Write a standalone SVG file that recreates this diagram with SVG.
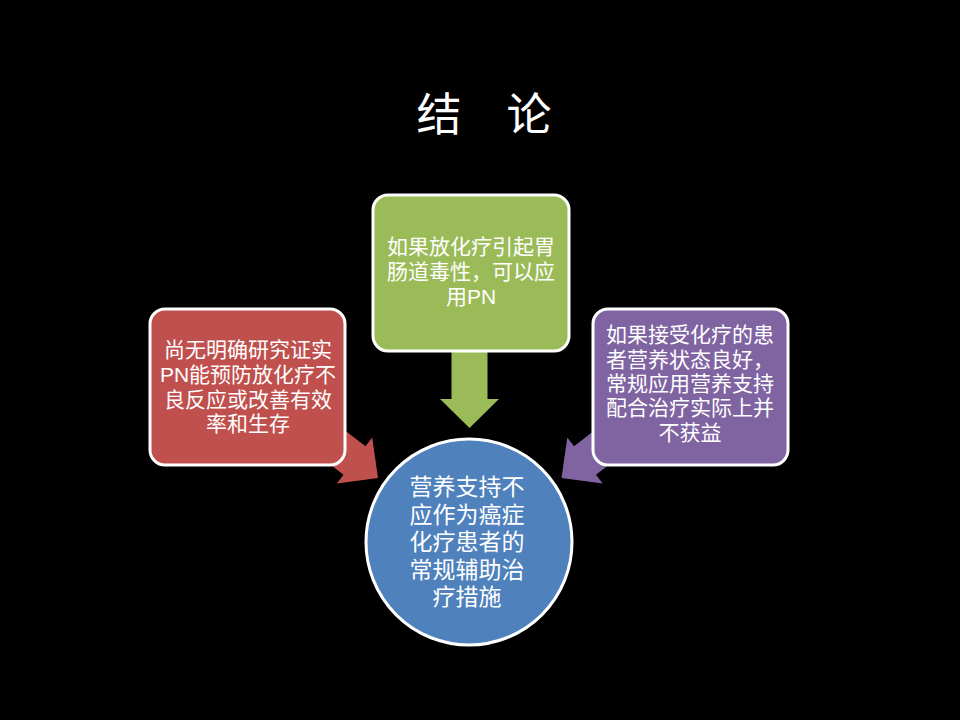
<svg xmlns="http://www.w3.org/2000/svg" width="960" height="720" viewBox="0 0 960 720">
<style>
.t{font-family:"Liberation Sans","Noto Sans CJK SC",sans-serif;fill:#fff;text-anchor:middle}
.bx{stroke:#fff;stroke-width:3}
</style>
<rect width="960" height="720" fill="#000"/>
<text class="t" x="484" y="131" font-size="45">结　论</text>
<g id="connectors">
<polygon fill="#C0504D" points="302.3,397.5 365.5,446.3 372.2,437.6 378,478 336.8,483.4 343.5,474.7 280.3,425.9"/>
<polygon fill="#8064A2" points="637.2,397.5 574,446.3 567.3,437.6 561.5,478 602.7,483.4 596,474.7 659.2,425.9"/>
<polygon fill="#9BBB59" points="451.5,340 487.5,340 487.5,399 499,399 469.5,428 440,399 451.5,399"/>
</g>
<g id="node-red">
<rect class="bx" x="150" y="309" width="195" height="156" rx="15" fill="#C0504D"/>
<text class="t" font-size="21"><tspan x="248" y="357">尚无明确研究证实</tspan><tspan x="248" y="382">PN能预防放化疗不</tspan><tspan x="248" y="407">良反应或改善有效</tspan><tspan x="248" y="431">率和生存</tspan></text>
</g>
<g id="node-green">
<rect class="bx" x="373" y="195" width="196" height="156" rx="15" fill="#9BBB59"/>
<text class="t" font-size="21"><tspan x="471" y="254">如果放化疗引起胃</tspan><tspan x="471" y="279">肠道毒性，可以应</tspan><tspan x="471" y="304">用PN</tspan></text>
</g>
<g id="node-purple">
<rect class="bx" x="593" y="309" width="195" height="156" rx="15" fill="#8064A2"/>
<text class="t" font-size="21"><tspan x="690" y="342">如果接受化疗的患</tspan><tspan x="690" y="367">者营养状态良好，</tspan><tspan x="690" y="391">常规应用营养支持</tspan><tspan x="690" y="415">配合治疗实际上并</tspan><tspan x="690" y="440">不获益</tspan></text>
</g>
<g id="node-blue">
<circle class="bx" cx="469" cy="542" r="103" fill="#4F81BD"/>
<text class="t" font-size="23"><tspan x="467" y="495">营养支持不</tspan><tspan x="467" y="523">应作为癌症</tspan><tspan x="467" y="550">化疗患者的</tspan><tspan x="467" y="578">常规辅助治</tspan><tspan x="467" y="605">疗措施</tspan></text>
</g>
</svg>
